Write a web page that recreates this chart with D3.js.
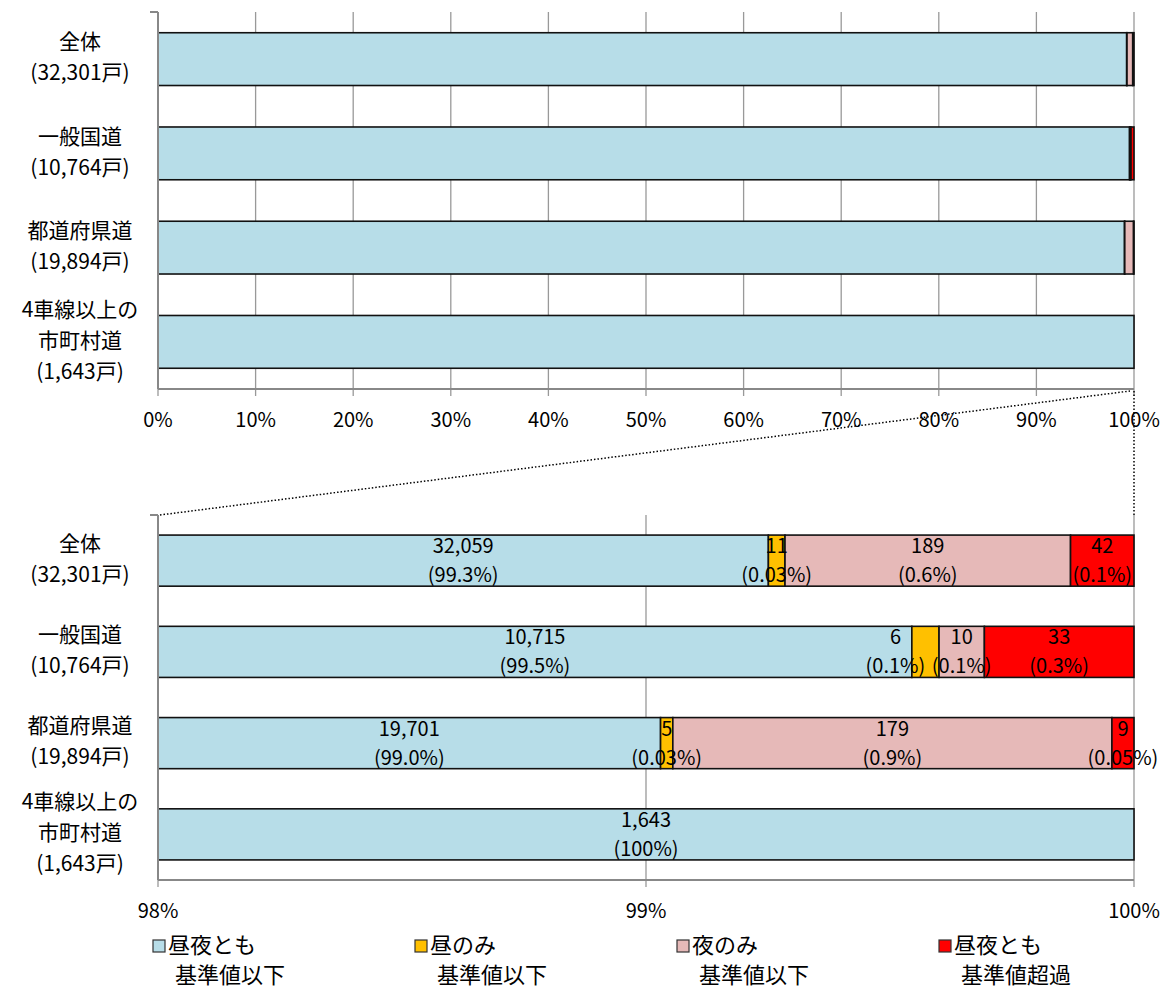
<!DOCTYPE html>
<html>
<head>
<meta charset="utf-8">
<script src="https://cdn.jsdelivr.net/npm/d3@7"></script>
<style>
  body { margin: 0; background: #fff; }
  text { font-family: "Noto Sans CJK JP", "Noto Sans", sans-serif; fill: #000; }
</style>
</head>
<body>
<div id="chart"></div>
<script>
const categories = ["全体", "一般国道", "都道府県道", "4車線以上の市町村道"];
const categoryLines = [
    ["全体", "(32,301戸)"],
    ["一般国道", "(10,764戸)"],
    ["都道府県道", "(19,894戸)"],
    ["4車線以上の", "市町村道", "(1,643戸)"]
];
const totals = [32301, 10764, 19894, 1643];

const seriesNames = [
    ["昼夜とも", "基準値以下"],
    ["昼のみ", "基準値以下"],
    ["夜のみ", "基準値以下"],
    ["昼夜とも", "基準値超過"]
];
const bothBelow = [32059, 10715, 19701, 1643];
const dayOnly = [11, 6, 5, 0];
const nightOnly = [189, 10, 179, 0];
const bothAbove = [42, 33, 9, 0];

const bothBelowPct = ["99.3%", "99.5%", "99.0%", "100%"];
const dayOnlyPct = ["0.03%", "0.1%", "0.03%", null];
const nightOnlyPct = ["0.6%", "0.1%", "0.9%", null];
const bothAbovePct = ["0.1%", "0.3%", "0.05%", null];

const topTicks = [0, 10, 20, 30, 40, 50, 60, 70, 80, 90, 100];
const zoomTicks = [98, 99, 100];

const colors = ["#B7DDE8", "#FFC000", "#E6B9B8", "#FF0000"];
const counts = [bothBelow, dayOnly, nightOnly, bothAbove];
const pctLabels = [bothBelowPct, dayOnlyPct, nightOnlyPct, bothAbovePct];

// build stacked segments in percent
const segments = [];
categories.forEach((c, i) => {
    let acc = 0;
    counts.forEach((s, k) => {
        const p = s[i] / totals[i] * 100;
        segments.push({ cat: c, k: k, i: i, x0: acc, x1: acc + p, n: s[i], pct: pctLabels[k][i] });
        acc += p;
    });
});

const width = 1174, height = 990;
const left = 158, right = 1134;
const svg = d3.select("#chart").append("svg")
    .attr("width", width).attr("height", height);

function drawPanel(top, bottom, domain, ticks, withLabels) {
    const x = d3.scaleLinear().domain(domain).range([left, right]).clamp(true);
    const y = d3.scaleBand().domain(categories).range([top, bottom])
        .paddingInner(0.44).paddingOuter(0.22);
    const g = svg.append("g");

    // vertical gridlines + ticks below axis
    g.selectAll(".grid").data(ticks.slice(1)).enter().append("line")
        .attr("x1", d => x(d)).attr("x2", d => x(d))
        .attr("y1", top).attr("y2", bottom + 7)
        .attr("stroke", "#999").attr("stroke-width", 1.3);
    g.append("line").attr("x1", left).attr("x2", left)
        .attr("y1", bottom).attr("y2", bottom + 7)
        .attr("stroke", "#999").attr("stroke-width", 1.3);

    // bars
    g.selectAll(".seg").data(segments.filter(d => d.n > 0)).enter().append("rect")
        .attr("x", d => x(d.x0))
        .attr("y", d => y(d.cat))
        .attr("width", d => Math.max(0, x(d.x1) - x(d.x0)))
        .attr("height", y.bandwidth())
        .attr("fill", d => colors[d.k])
        .attr("stroke", "#111").attr("stroke-width", 1.6);

    // axes
    g.append("line").attr("x1", left).attr("x2", right)
        .attr("y1", bottom).attr("y2", bottom)
        .attr("stroke", "#888").attr("stroke-width", 2);
    g.append("line").attr("x1", left).attr("x2", left)
        .attr("y1", top).attr("y2", bottom)
        .attr("stroke", "#888").attr("stroke-width", 2);
    g.append("line").attr("x1", left - 8).attr("x2", left)
        .attr("y1", top).attr("y2", top)
        .attr("stroke", "#888").attr("stroke-width", 2);

    g.selectAll(".tick").data(ticks).enter().append("text")
        .attr("x", d => x(d)).attr("y", bottom + 33)
        .attr("text-anchor", "middle").attr("dominant-baseline", "middle")
        .attr("font-size", 20)
        .text(d => d + "%");

    // category labels
    categoryLines.forEach((lines, i) => {
        const cy = y(categories[i]) + y.bandwidth() / 2;
        const t = g.append("text").attr("text-anchor", "middle")
            .attr("font-size", 21);
        lines.forEach((ln, j) => {
            t.append("tspan").attr("x", 80)
                .attr("y", cy + (j - (lines.length - 1) / 2) * 31)
                .attr("dominant-baseline", "middle")
                .text(ln);
        });
    });

    if (withLabels) {
        const shift = d => (d.k === 1 && d.cat === "一般国道") ? -30 : 0;
        const lab = g.selectAll(".lab").data(segments.filter(d => d.n > 0)).enter()
            .append("text").attr("text-anchor", "middle").attr("font-size", 20);
        lab.append("tspan")
            .attr("x", d => (x(d.x0) + x(d.x1)) / 2 + shift(d))
            .attr("y", d => y(d.cat) + y.bandwidth() / 2 - 13)
            .attr("dominant-baseline", "middle")
            .text(d => d3.format(",")(d.n));
        lab.append("tspan")
            .attr("x", d => (x(d.x0) + x(d.x1)) / 2 + shift(d))
            .attr("y", d => y(d.cat) + y.bandwidth() / 2 + 16)
            .attr("dominant-baseline", "middle")
            .text(d => "(" + d.pct + ")");
    }
    return x;
}

const xTop = drawPanel(12, 389, [0, 100], topTicks, false);
const xZoom = drawPanel(515, 880, [98, 100], zoomTicks, true);

// dotted connectors between panels
svg.append("line")
    .attr("x1", left + 2).attr("y1", 515)
    .attr("x2", xTop(100) - 4).attr("y2", 391)
    .attr("stroke", "#000").attr("stroke-width", 1.5)
    .attr("stroke-dasharray", "1.5,2");
svg.append("line")
    .attr("x1", xTop(100)).attr("y1", 391)
    .attr("x2", xZoom(100)).attr("y2", 515)
    .attr("stroke", "#000").attr("stroke-width", 1.5)
    .attr("stroke-dasharray", "1.5,2");

// legend
const legend = svg.append("g");
seriesNames.forEach((nm, k) => {
    const lx = 153 + k * 262;
    legend.append("rect").attr("x", lx).attr("y", 940)
        .attr("width", 12).attr("height", 12)
        .attr("fill", colors[k]).attr("stroke", "#333").attr("stroke-width", 1.2);
    legend.append("text").attr("x", lx + 15).attr("y", 947)
        .attr("dominant-baseline", "middle").attr("font-size", 22).text(nm[0]);
    legend.append("text").attr("x", lx + 22).attr("y", 977)
        .attr("dominant-baseline", "middle").attr("font-size", 22).text(nm[1]);
});
</script>
</body>
</html>
